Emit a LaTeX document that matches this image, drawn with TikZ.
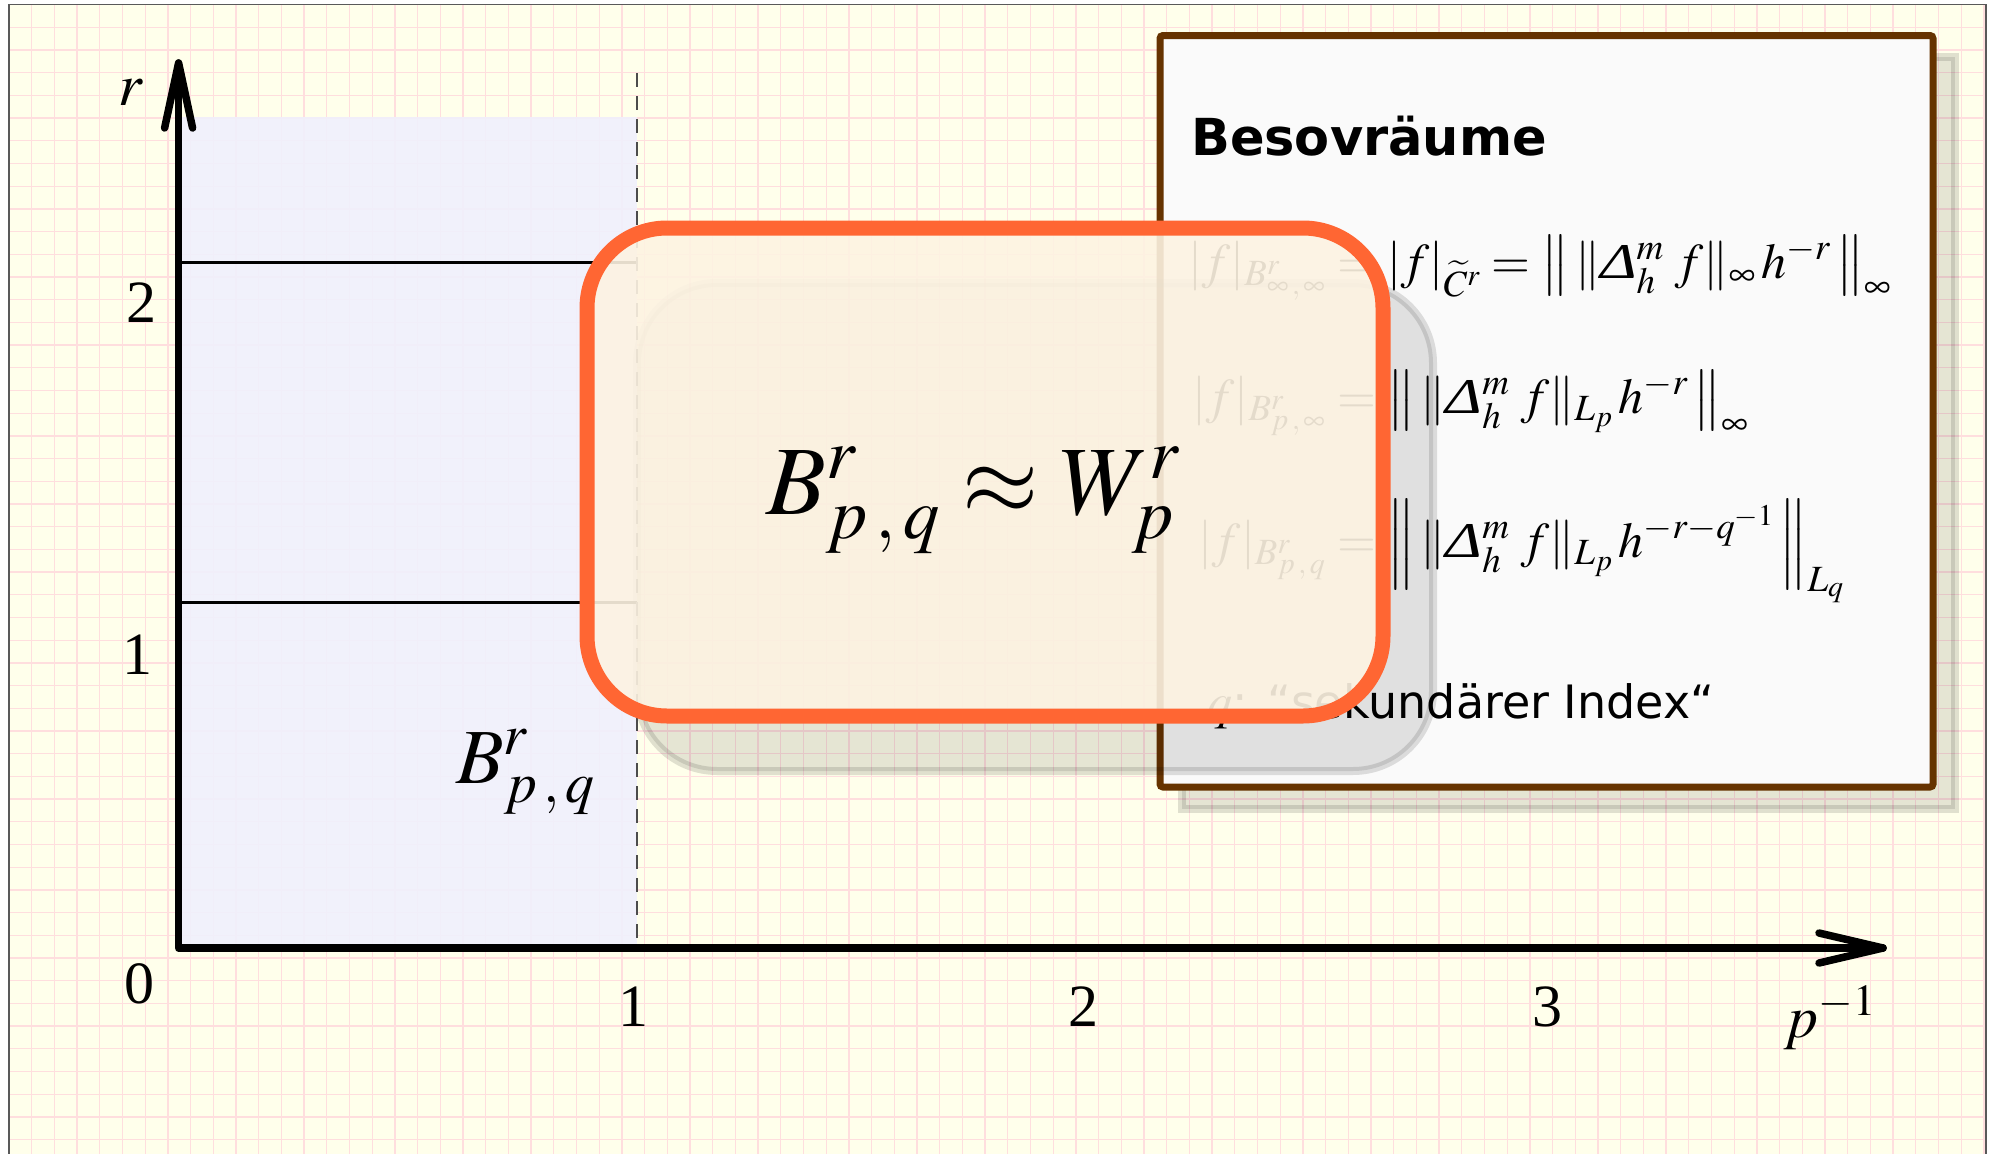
\documentclass[tikz,border=0pt]{standalone}
\usepackage{mathptmx}
\usepackage[no-math]{fontspec}
\setmainfont{Liberation Serif}
\newfontfamily\sansf{DejaVu Sans}
\newfontfamily\grk{Liberation Serif}
\newcommand\Dlt{\mbox{\scalebox{1.25}[1]{\grk\itshape Δ}}}
\definecolor{bgyel}{RGB}{255,255,235}
\definecolor{gridpink}{RGB}{255,222,222}
\definecolor{lav}{RGB}{240,240,253}
\definecolor{orng}{RGB}{255,102,51}
\definecolor{cream}{RGB}{253,243,226}
\definecolor{brwn}{RGB}{102,51,0}
\begin{document}
\begin{tikzpicture}[x=1pt,y=-1pt,
  gridline/.style={draw=gridpink,line width=1.3pt},
  axisline/.style={line width=7.5pt,line cap=round,line join=round},
  ticklbl/.style={inner sep=0pt,font=\fontsize{60}{70}\selectfont},
  boxmath/.style={inner sep=0pt,font=\fontsize{50}{58}\selectfont},
  shadowbox/.style={fill=black,fill opacity=0.1,draw=black,draw opacity=0.12,line width=8pt}
]
\useasboundingbox (0,0) rectangle (1995,1154);
\fill[white] (0,0) rectangle (1995,1154);
\begin{scope}
 \clip (9,4.7) rectangle (1986,1160);
 \fill[bgyel] (9,4.7) rectangle (1986,1160);
 \foreach \i in {0,...,87} \draw[gridline] ({9+22.7*\i},0) -- ({9+22.7*\i},1160);
 \foreach \j in {0,...,51} \draw[gridline] (0,{4.6+22.7*\j}) -- (1995,{4.6+22.7*\j});
\end{scope}
\draw[gray!70!black,line width=1.5pt] (9,1160) -- (9,4.7) -- (1986,4.7) -- (1986,1160);

% blue region
\fill[lav,fill opacity=0.9] (178,117) rectangle (637,948);
\coordinate (O) at (178.6,948);
\coordinate (ytip) at (178.6,63);
\coordinate (xtip) at (1883,948);
\coordinate (r1a) at (178.6,602); \coordinate (r1b) at (637,602);
\coordinate (r2a) at (178.6,262); \coordinate (r2b) at (637,262);
\coordinate (dtop) at (637,73); \coordinate (dbot) at (637,948);
\draw[line width=3pt] (r2a) -- (r2b);
\draw[line width=3pt] (r1a) -- (r1b);
\draw[black!70,line width=2pt,dash pattern=on 14pt off 9pt] (dtop) -- (dbot);
\draw[axisline] (ytip) -- (O) -- (xtip);
\draw[axisline] (ytip) ++(-14,65) -- (ytip) -- ++(14,65);
\draw[axisline] (xtip) ++(-64,-15) -- (xtip) -- ++(-64,15);

\node[ticklbl,anchor=base west] (rlab) at (118,105) {$r$};
\node[ticklbl] (t0) at (139,984) {0};
\node[ticklbl] (tx1) at (633,1007) {1};
\node[ticklbl] (tx2) at (1083,1007) {2};
\node[ticklbl] (tx3) at (1547,1007) {3};
\node[ticklbl] (ty1) at (137,655) {1};
\node[ticklbl] (ty2) at (141,303) {2};
\node[ticklbl,anchor=base west] (plab) at (1784,1037) {$p^{-1}$};
\node[inner sep=0pt,anchor=base west,font=\fontsize{78}{90}\selectfont] (blab) at (456,783) {$B^{r}_{p\,,\,q}$};

% Besov box
\draw[shadowbox] (1182,57) rectangle (1955,809);
\draw[brwn,line width=7pt,fill=white!98!black,rounded corners=3pt] (1160,35.5) rectangle (1933,787);
\node[inner sep=0pt,anchor=base west,font=\sansf\bfseries\fontsize{51}{60}\selectfont] (title) at (1191,155) {Besovräume};
\node[boxmath,anchor=base east] (r1l) at (1326,278) {$|f|_{B^{r}_{\infty\,,\,\infty}}$};
\node[boxmath,anchor=base west] (r1r) at (1326,278) {${}=|f|_{\widetilde{C}^{r}}=\left\|\,\|\Dlt^{m}_{h}\;f\|_{\infty}\,h^{-r}\,\right\|_{\infty}$};
\node[boxmath,anchor=base east] (r2l) at (1326,413) {$|f|_{B^{r}_{p\,,\,\infty}}$};
\node[boxmath,anchor=base west] (r2r) at (1326,413) {${}=\left\|\,\|\Dlt^{m}_{h}\;f\|_{L_{p}}\,h^{-r}\,\right\|_{\infty}$};
\node[boxmath,anchor=base east] (r3l) at (1326,557) {$|f|_{B^{r}_{p\,,\,q}}$};
\node[boxmath,anchor=base west] (r3r) at (1326,557) {${}=\left\|\,\|\Dlt^{m}_{h}\;f\|_{L_{p}}\,h^{-r-q^{-1}}\,\right\|_{L_{q}}$};
\node[boxmath,anchor=base west] (qline) at (1207,718) {$q$\sansf\fontsize{46}{54}\selectfont: “sekundärer Index“};

% orange box
\draw[shadowbox,rounded corners=80pt] (637,283) rectangle (1433,771);
\draw[orng,line width=15pt,fill=cream,fill opacity=0.9,rounded corners=80pt] (587,228) rectangle (1383,716);
\node[inner sep=0pt,anchor=base west,font=\fontsize{98}{110}\selectfont] (mainf) at (766,514) {$B^{r}_{p\,,\,q}\approx W^{r}_{p}$};
\end{tikzpicture}
\end{document}
